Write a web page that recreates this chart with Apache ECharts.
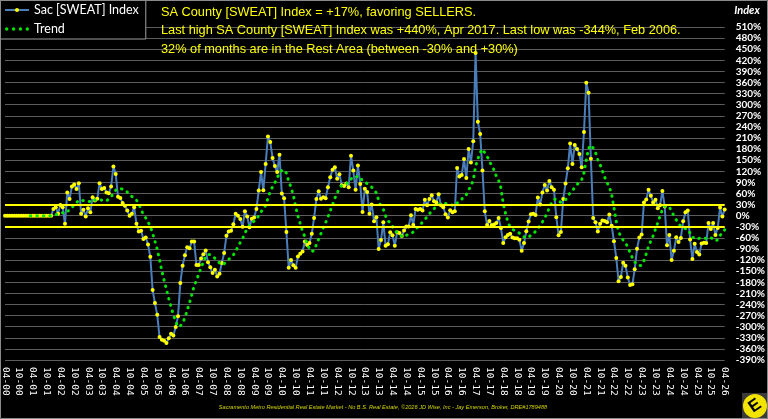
<!DOCTYPE html>
<html><head><meta charset="utf-8">
<script src="https://cdn.jsdelivr.net/npm/echarts@6/dist/echarts.min.js"></script>
<style>html,body{margin:0;padding:0;background:#000;}#c{width:768px;height:419px;}</style>
</head><body><div id="c"></div>
<script>
// Category labels: monthly, MM-YY, from 04-00 to 04-26
const startYear = 2000, startMonth = 4, monthCount = 313;
const categories = [];
for (let k = 0; k < monthCount; k++) {
  const m = (startMonth - 1 + k) % 12 + 1;
  const y = startYear + Math.floor((startMonth - 1 + k) / 12);
  categories.push(String(m).padStart(2, '0') + '-' + String(y % 100).padStart(2, '0'));
}

const indexValues = [
  0,0,0,0,0,0,0,0,0,0,0,0,0,0,0,0,0,0,0,0,0,
  18,23,5,29,23,-22,63,45,79,84,72,88,
  5,16,-2,20,9,50,41,46,88,72,75,63,
  61,79,133,113,51,48,34,27,14,0,5,23,
  -22,-43,-41,-63,-59,-78,-111,-201,-236,-268,-328,-335,
  -338,-344,-331,-319,-324,-301,-272,-182,-135,-107,-85,-88,
  -70,-70,-133,-133,-116,-104,-94,-126,-139,-155,-146,-164,
  -157,-128,-101,-54,-43,-41,-23,5,0,-9,-30,12,
  -2,-31,-8,-5,18,68,118,69,140,214,199,156,
  134,118,165,60,47,-44,-141,-120,-134,-141,-110,-103,
  -97,-70,-79,-74,-49,-6,45,66,46,50,47,77,
  104,124,131,100,112,82,80,87,77,162,122,70,
  136,86,10,73,64,5,30,-15,-4,-90,-66,-18,
  -81,-77,-45,-53,-81,-45,-47,-55,-40,-29,-29,1,
  -25,18,16,18,14,43,28,45,55,39,36,58,
  28,23,4,-5,15,9,12,129,106,110,153,102,
  180,144,201,440,254,221,122,12,-25,-14,-26,-24,
  -20,-6,-33,-74,-58,-52,-49,-59,-61,-61,-65,-95,
  -74,-42,-16,4,5,2,49,30,63,83,68,94,
  77,70,-4,-53,-44,45,87,128,195,140,191,180,
  167,131,226,359,332,154,-6,-18,-43,-22,-13,-14,
  -18,3,-27,-69,-114,-177,-166,-127,-135,-167,-187,-185,
  -145,-89,-59,-51,36,44,70,54,36,43,20,28,
  67,25,-80,-52,-120,-95,-58,-71,-60,-15,9,14,
  -64,-117,-76,-98,-105,-75,-73,-74,-20,-36,-20,-52,
  -33,22,-2,17
];

const trendValues = [
  null,null,null,null,null,null,null,null,null,null,null,
  0,0,0,0,0,0,0,0,0,0,
  2,3,4,6,8,6,12,15,22,29,35,42,
  41,41,40,39,38,44,42,42,43,42,42,40,
  45,50,61,69,73,73,72,70,64,58,52,49,
  42,32,17,3,-6,-17,-29,-48,-69,-91,-119,-149,
  -175,-200,-224,-246,-268,-286,-300,-298,-290,-276,-256,-236,
  -213,-190,-174,-158,-141,-125,-110,-105,-105,-109,-115,-121,
  -128,-133,-130,-124,-118,-112,-106,-96,-84,-72,-62,-47,
  -35,-26,-19,-15,-10,0,11,17,28,47,66,78,
  89,102,116,122,124,115,93,77,55,25,-1,-22,
  -42,-57,-78,-89,-97,-94,-78,-63,-48,-32,-19,-4,
  13,29,47,61,75,82,85,87,89,99,105,104,
  107,104,94,91,87,81,77,68,62,41,25,18,
  -1,-14,-19,-29,-41,-45,-52,-55,-58,-53,-50,-48,
  -44,-36,-31,-25,-17,-10,-3,5,13,19,24,29,
  33,34,33,31,31,28,27,34,38,44,54,57,
  70,80,96,133,153,171,180,170,160,149,134,124,
  107,95,75,32,6,-17,-31,-37,-40,-44,-47,-53,
  -57,-60,-59,-52,-47,-43,-34,-27,-17,-5,6,22,
  35,44,45,40,36,40,43,51,62,67,77,84,
  92,97,116,150,182,191,183,171,151,138,121,104,
  89,78,57,22,-16,-43,-57,-66,-73,-85,-100,-114,
  -125,-132,-135,-134,-121,-103,-83,-68,-54,-36,-19,-1,
  17,26,24,24,11,0,-11,-21,-29,-34,-35,-36,
  -47,-59,-59,-63,-61,-60,-61,-61,-58,-60,-62,-68,
  -65,-53,-47,-38
];

const restBand = [30, -30];
const seriesNames = ['Sac [SWEAT] Index', 'Trend'];
const titleLines = [
  'SA County [SWEAT] Index = +17%, favoring SELLERS.',
  'Last high SA County [SWEAT] Index was +440%, Apr 2017. Last low was -344%, Feb 2006.',
  '32% of months are in the Rest Area (between -30% and +30%)'
];
const footerText = 'Sacramento Metro Residential Real Estate Market - No B.S. Real Estate, \u00a92026 JD Wise, Inc - Jay Emerson, Broker, DRE#1789488';

const chart = echarts.init(document.getElementById('c'), null, {renderer: 'canvas'});
const titleY = [12.5, 30.5, 49];
const graphics = titleLines.map((t, k) => ({
  type: 'text', x: 161, y: titleY[k], silent: true, z: 10,
  style: {text: t, fill: '#ffff00', verticalAlign: 'middle',
    font: '12.75px "Liberation Sans", Arial, sans-serif'}
}));
graphics.push({
  type: 'text', x: 747, y: 10, silent: true, z: 10,
  style: {text: 'Index', fill: '#ffffff', align: 'center', verticalAlign: 'middle',
    font: 'italic bold 11px Lato, sans-serif'}
});
graphics.push({
  type: 'text', x: 383, y: 407, silent: true, z: 10,
  style: {text: footerText, fill: '#d4d400', align: 'center', verticalAlign: 'middle',
    font: 'italic 5.6px "Liberation Sans", Arial, sans-serif'}
});
graphics.push({
  type: 'rect', silent: true, z: 20,
  shape: {x: 0.5, y: 0.5, width: 767, height: 418},
  style: {fill: null, stroke: '#8a8a8a', lineWidth: 1}
});
graphics.push({
  type: 'rect', silent: true, z: 11,
  shape: {x: 742, y: 393, width: 26, height: 26},
  style: {fill: '#3a3a3a'}
});
graphics.push({
  type: 'circle', silent: true, z: 12,
  shape: {cx: 755, cy: 406, r: 12},
  style: {fill: '#f2e400'}
});
graphics.push({
  type: 'text', x: 755, y: 406, rotation: 0.6, silent: true, z: 13,
  style: {text: 'E', fill: '#000', align: 'center', verticalAlign: 'middle',
    font: 'bold 17px "Liberation Sans", Arial, sans-serif'}
});

const dotsIcon = 'path://M0,1.5a1.5,1.5 0 1,0 3,0a1.5,1.5 0 1,0 -3,0M6,1.5a1.5,1.5 0 1,0 3,0a1.5,1.5 0 1,0 -3,0M12,1.5a1.5,1.5 0 1,0 3,0a1.5,1.5 0 1,0 -3,0M18,1.5a1.5,1.5 0 1,0 3,0a1.5,1.5 0 1,0 -3,0';

chart.setOption({
  backgroundColor: '#000',
  animation: false,
  legend: {
    data: [{name: seriesNames[0]}, {name: seriesNames[1], icon: dotsIcon}],
    orient: 'vertical', left: 0, top: 0,
    padding: [3, 7, 3, 4], itemGap: 5, itemWidth: 24, itemHeight: 5,
    backgroundColor: '#000', borderColor: '#a0a0a0', borderWidth: 1,
    selectedMode: false,
    textStyle: {color: '#ffffff', fontFamily: 'Lato, sans-serif', fontSize: 12.5, lineHeight: 14}
  },
  grid: {left: 1, right: 42, top: 27, bottom: 59, containLabel: false},
  xAxis: {
    type: 'category', data: categories, boundaryGap: false,
    axisLine: {show: false}, axisTick: {show: false}, splitLine: {show: false},
    axisLabel: {interval: 5, rotate: -90, margin: 7, color: '#ffffff',
      fontFamily: '"DejaVu Sans Mono", monospace', fontSize: 9.5}
  },
  yAxis: {
    type: 'value', position: 'right', min: -390, max: 510, interval: 30,
    axisLine: {show: false}, axisTick: {show: false},
    splitLine: {lineStyle: {color: '#5c5c5c', width: 1}},
    axisLabel: {formatter: v => v + '%', color: '#ffffff', margin: 11,
      fontFamily: 'Lato, sans-serif', fontSize: 10, fontWeight: 'bold'}
  },
  series: [
    {
      name: seriesNames[0], type: 'line', data: indexValues, z: 2,
      symbol: 'circle', symbolSize: 4, showAllSymbol: true,
      lineStyle: {color: '#4a7ebb', width: 2},
      itemStyle: {color: '#ffff00'},
      emphasis: {disabled: true},
      markLine: {
        silent: true, symbol: 'none', label: {show: false},
        lineStyle: {color: '#ffff00', width: 2, type: 'solid'},
        emphasis: {disabled: true},
        data: restBand.map(v => ({yAxis: v}))
      }
    },
    {
      name: seriesNames[1], type: 'line', data: trendValues, z: 3,
      symbol: 'none', showSymbol: false,
      itemStyle: {color: '#00e600'},
      lineStyle: {color: '#00e600', width: 3, type: [0.5, 6], cap: 'round'},
      emphasis: {disabled: true}
    }
  ],
  graphic: graphics
});
</script>
</body></html>
